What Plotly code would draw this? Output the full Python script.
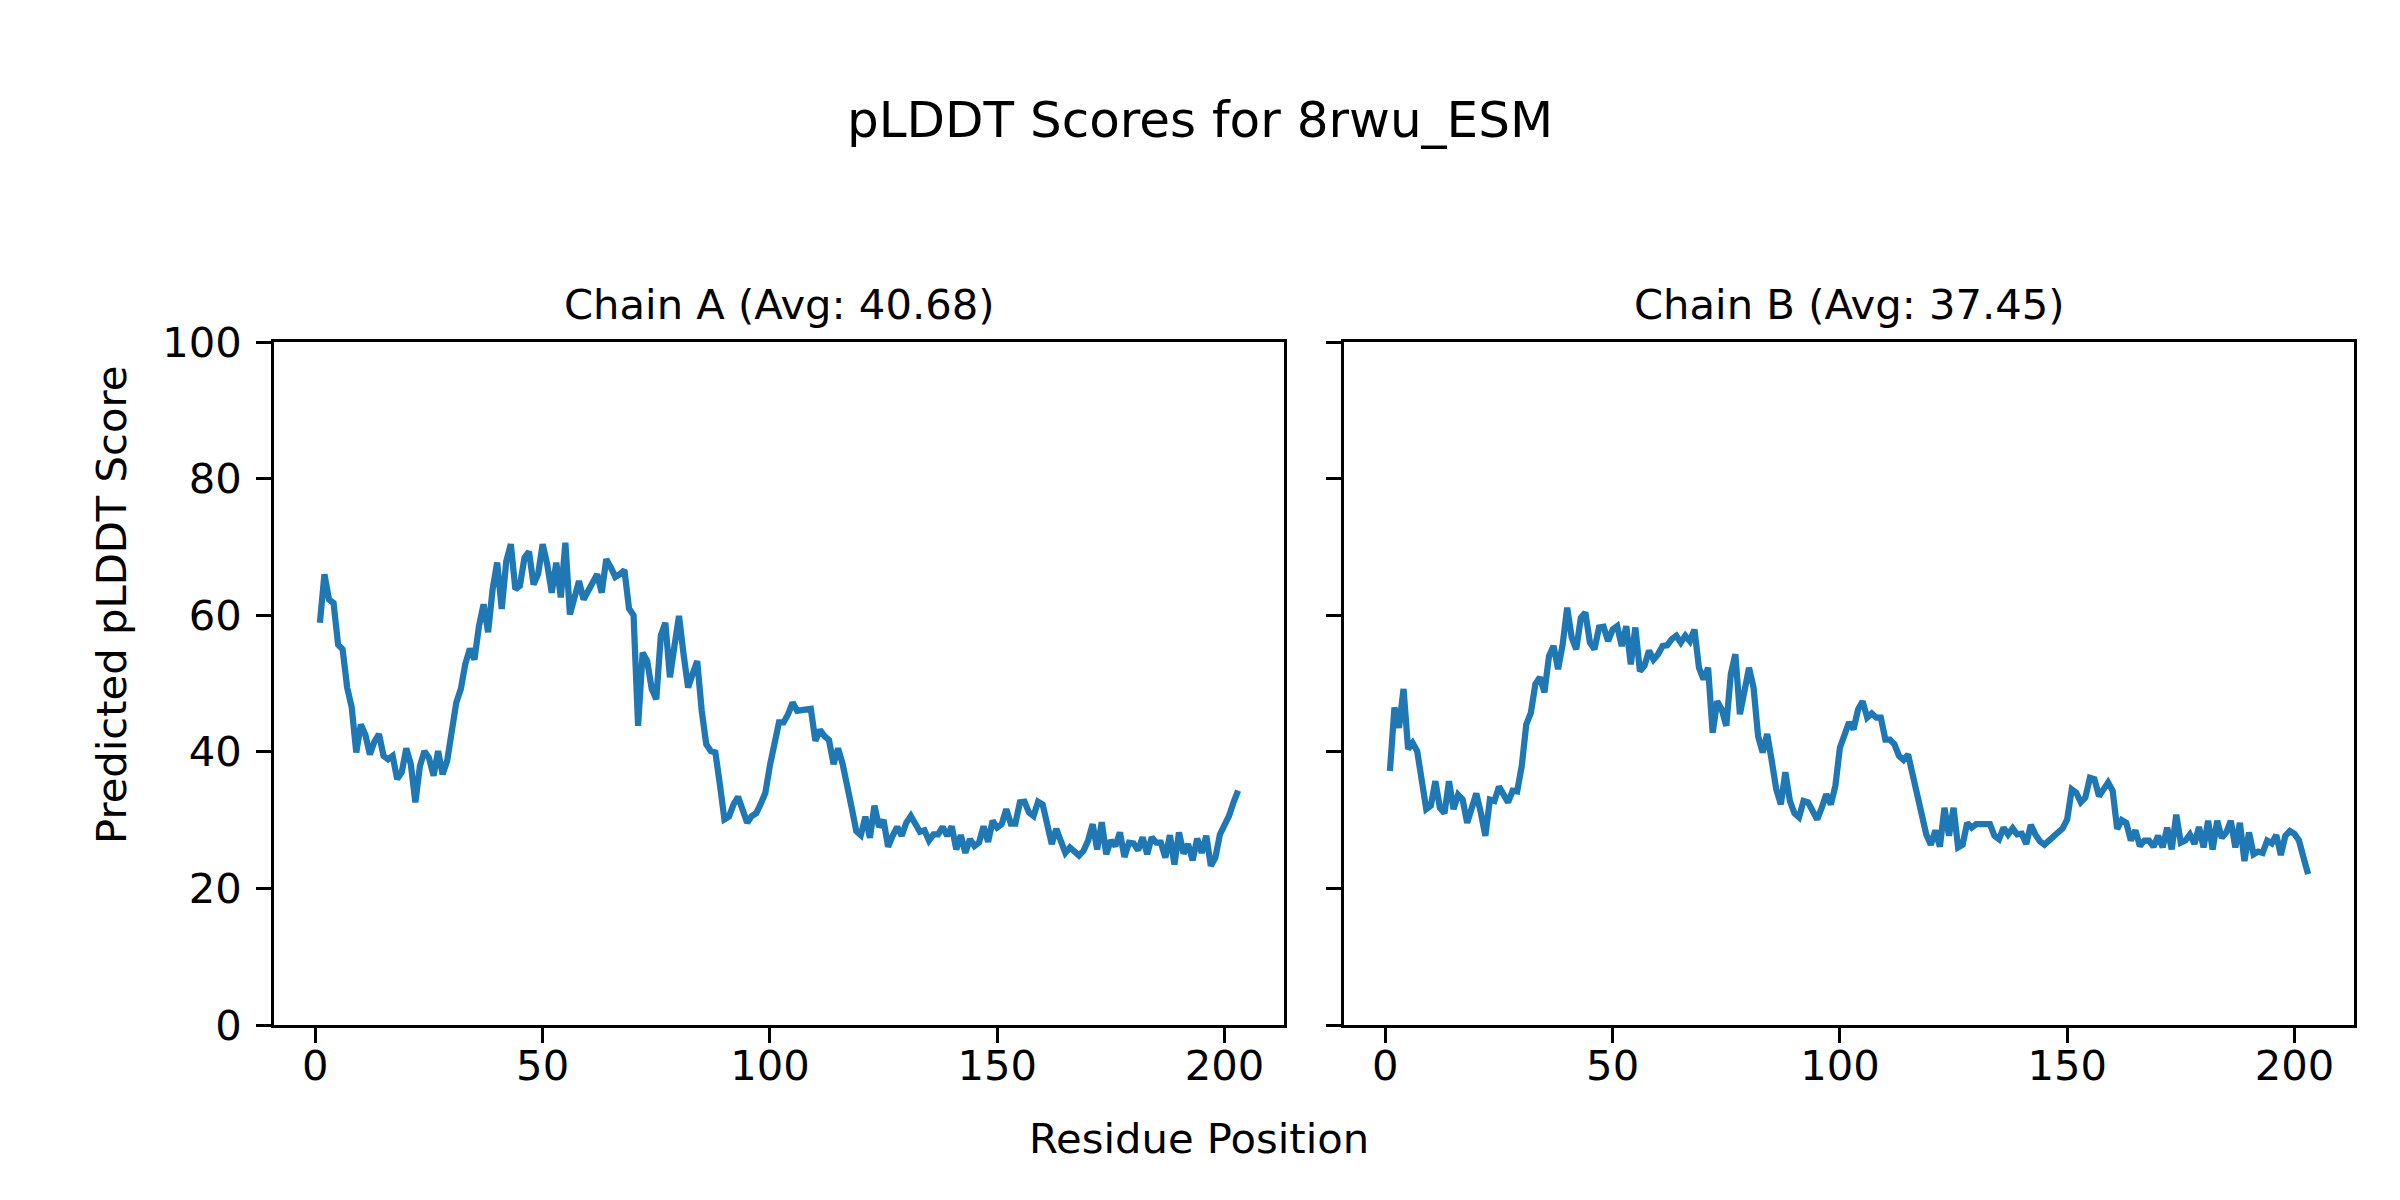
import plotly.graph_objects as go

# ---------------- data ----------------
plddt_a = [
    58.9, 66.0, 62.3, 61.8, 55.7, 55.0, 49.4, 46.5, 39.9, 44.0,
    42.5, 39.6, 41.5, 42.6, 39.4, 38.9, 39.4, 36.0, 37.0, 40.5,
    38.2, 32.6, 37.9, 40.1, 39.1, 36.5, 40.1, 36.7, 38.7, 43.5,
    47.2, 49.2, 52.9, 55.1, 53.5, 58.4, 61.6, 57.5, 63.8, 67.7,
    60.9, 67.9, 70.4, 63.8, 64.3, 68.4, 69.3, 64.5, 66.0, 70.4,
    67.5, 63.3, 67.7, 62.6, 70.6, 60.1, 62.8, 65.0, 62.3, 63.6,
    64.9, 66.0, 63.3, 68.2, 67.0, 65.6, 66.0, 66.6, 61.0, 60.0,
    43.8, 54.5, 53.3, 49.2, 47.7, 57.0, 58.9, 50.9, 55.5, 59.9,
    54.3, 49.4, 51.4, 53.3, 46.0, 41.1, 40.1, 39.9, 35.2, 30.1,
    30.5, 32.3, 33.4, 31.3, 29.6, 30.6, 31.0, 32.4, 34.0, 38.0,
    41.0, 44.3, 44.3, 45.5, 47.2, 46.0, 46.1, 46.2, 46.3, 41.6,
    43.2, 42.3, 41.7, 38.2, 40.5, 38.2, 34.5, 31.8, 28.4, 27.8,
    30.5, 27.4, 32.1, 29.0, 30.0, 26.1, 27.7, 29.0, 27.7, 29.6,
    30.6, 29.4, 28.3, 28.5, 27.0, 27.9, 27.9, 29.0, 27.7, 29.1,
    25.7, 27.8, 25.2, 27.2, 26.2, 26.7, 29.1, 26.8, 29.9, 28.9,
    29.4, 31.6, 29.5, 29.5, 32.6, 32.7, 31.1, 30.6, 32.7, 32.3,
    28.9, 26.5, 28.7, 27.2, 25.2, 26.0, 25.5, 24.8, 25.5, 27.0,
    29.4, 25.7, 29.7, 25.0, 27.0, 26.2, 28.2, 24.6, 26.7, 26.6,
    25.6, 27.5, 25.0, 27.5, 26.7, 26.7, 24.5, 27.8, 23.5, 28.2,
    25.1, 26.5, 24.1, 27.3, 25.2, 27.7, 23.3, 24.5, 27.9, 29.1,
    30.6, 32.6, 34.3,
]

plddt_b = [
    37.2, 46.5, 43.5, 49.2, 40.4, 41.3, 40.1, 35.7, 31.6, 32.1,
    35.7, 31.8, 31.0, 35.7, 31.6, 33.7, 33.0, 29.6, 31.8, 33.9,
    31.1, 27.7, 33.0, 32.8, 34.9, 33.8, 32.6, 34.3, 34.2, 37.9,
    44.0, 45.7, 49.9, 50.9, 48.7, 54.0, 55.5, 52.1, 55.7, 61.1,
    56.7, 55.0, 59.6, 60.4, 56.0, 55.0, 58.2, 58.3, 56.2, 57.9,
    58.4, 55.5, 58.4, 52.8, 58.2, 51.8, 52.6, 54.8, 53.5, 54.3,
    55.5, 55.6, 56.5, 57.0, 56.0, 57.0, 56.2, 57.9, 52.3, 50.6,
    52.3, 42.8, 47.4, 46.2, 43.8, 51.4, 54.3, 45.5, 48.9, 52.3,
    49.4, 42.3, 39.9, 42.6, 38.7, 34.5, 32.3, 37.0, 32.8, 31.0,
    30.4, 32.8, 32.6, 31.4, 30.1, 31.8, 33.8, 32.3, 35.0, 40.6,
    42.6, 44.3, 43.3, 46.2, 47.4, 45.0, 45.6, 45.0, 45.0, 41.8,
    41.8, 41.1, 39.4, 38.8, 39.6, 36.7, 33.9, 30.1, 27.9, 26.4,
    28.5, 26.1, 31.8, 27.7, 31.8, 26.0, 26.4, 29.6, 28.9, 29.4,
    29.3, 29.4, 29.4, 27.7, 27.2, 28.9, 27.9, 28.8, 27.9, 28.0,
    26.5, 29.3, 27.9, 26.9, 26.4, 27.0, 27.4, 28.2, 28.8, 30.1,
    34.5, 34.0, 32.6, 33.3, 36.2, 36.0, 33.5, 34.5, 35.5, 34.3,
    28.7, 30.0, 29.6, 27.0, 28.5, 26.2, 27.0, 27.0, 26.1, 27.7,
    26.0, 28.9, 25.7, 30.8, 26.7, 27.0, 27.9, 26.5, 29.0, 26.0,
    29.9, 25.7, 29.9, 27.4, 28.2, 29.9, 26.0, 29.6, 24.0, 28.2,
    25.0, 25.4, 25.2, 27.0, 26.6, 27.8, 24.9, 27.7, 28.4, 28.0,
    27.0, 24.5, 22.1,
]

residues_a = list(range(1, len(plddt_a) + 1))
residues_b = list(range(1, len(plddt_b) + 1))

x_ticks = [0, 50, 100, 150, 200]
y_ticks = [0, 20, 40, 60, 80, 100]
chain_titles = ["Chain A (Avg: 40.68)", "Chain B (Avg: 37.45)"]
main_title = "pLDDT Scores for 8rwu_ESM"
x_label = "Residue Position"
y_label = "Predicted pLDDT Score"

# ---------------- layout constants ----------------
W, H = 2400, 1200
FONT = "DejaVu Sans"
LINE_COLOR = "#1f77b4"
SPINE_W = 3.33
TICK_LEN = 14.6
FS = 41.7
FS_TITLE = 50

# target positions (pixels in the final picture)
X_OFF = 8          # page offset observed horizontally
Y_OFF = 31         # page offset observed vertically
H_EFF = 1151       # effective drawing height observed

ax_a = (274, 1284)
ax_b = (1344, 2354)
ax_top, ax_bot = 341, 1024


def px_x(v):
    return (v - X_OFF) / W


def px_y(v):
    return 1 - (v - Y_OFF) / H_EFF


n = len(plddt_a)
xr = [1 - 0.05 * (n - 1), n + 0.05 * (n - 1)]

fig = go.Figure()
fig.add_trace(go.Scatter(x=residues_a, y=plddt_a, mode="lines",
                         line=dict(color=LINE_COLOR, width=6.25),
                         xaxis="x", yaxis="y", showlegend=False))
fig.add_trace(go.Scatter(x=residues_b, y=plddt_b, mode="lines",
                         line=dict(color=LINE_COLOR, width=6.25),
                         xaxis="x2", yaxis="y2", showlegend=False))

common_axis = dict(
    showgrid=False, zeroline=False, showline=True, mirror=True,
    linecolor="black", linewidth=SPINE_W, ticks="outside",
    ticklen=TICK_LEN, tickwidth=SPINE_W, tickcolor="black",
    tickfont=dict(family=FONT, size=FS, color="black"),
)

fig.update_layout(
    width=W, height=H,
    margin=dict(l=0, r=0, t=0, b=0),
    paper_bgcolor="white", plot_bgcolor="white",
    font=dict(family=FONT, color="black"),
    showlegend=False,
    xaxis=dict(domain=[px_x(ax_a[0]), px_x(ax_a[1])], range=xr,
               tickvals=x_ticks, anchor="y", ticklabelstandoff=-13,
               **common_axis),
    yaxis=dict(domain=[px_y(ax_bot), px_y(ax_top)], range=[0, 100],
               tickvals=y_ticks, anchor="x", ticklabelstandoff=6,
               **common_axis),
    xaxis2=dict(domain=[px_x(ax_b[0]), px_x(ax_b[1])], range=xr,
                tickvals=x_ticks, anchor="y2", ticklabelstandoff=-13,
                **common_axis),
    yaxis2=dict(domain=[px_y(ax_bot), px_y(ax_top)], range=[0, 100],
                tickvals=y_ticks, anchor="x2", showticklabels=False,
                **common_axis),
)

annotations = [
    dict(text=main_title, x=px_x(1200), y=px_y(118.6), xref="paper", yref="paper",
         xanchor="center", yanchor="middle", showarrow=False,
         font=dict(family=FONT, size=FS_TITLE, color="black")),
    dict(text=chain_titles[0], x=px_x((ax_a[0] + ax_a[1]) / 2), y=px_y(303),
         xref="paper", yref="paper", xanchor="center", yanchor="middle",
         showarrow=False, font=dict(family=FONT, size=FS, color="black")),
    dict(text=chain_titles[1], x=px_x((ax_b[0] + ax_b[1]) / 2), y=px_y(303),
         xref="paper", yref="paper", xanchor="center", yanchor="middle",
         showarrow=False, font=dict(family=FONT, size=FS, color="black")),
    dict(text=x_label, x=px_x(1199), y=px_y(1137), xref="paper", yref="paper",
         xanchor="center", yanchor="middle", showarrow=False,
         font=dict(family=FONT, size=FS, color="black")),
    dict(text=y_label, x=px_x(112), y=px_y(604), xref="paper", yref="paper",
         xanchor="center", yanchor="middle", showarrow=False, textangle=-90,
         font=dict(family=FONT, size=FS, color="black")),
]
fig.update_layout(annotations=annotations)

fig.write_html("out.html")
